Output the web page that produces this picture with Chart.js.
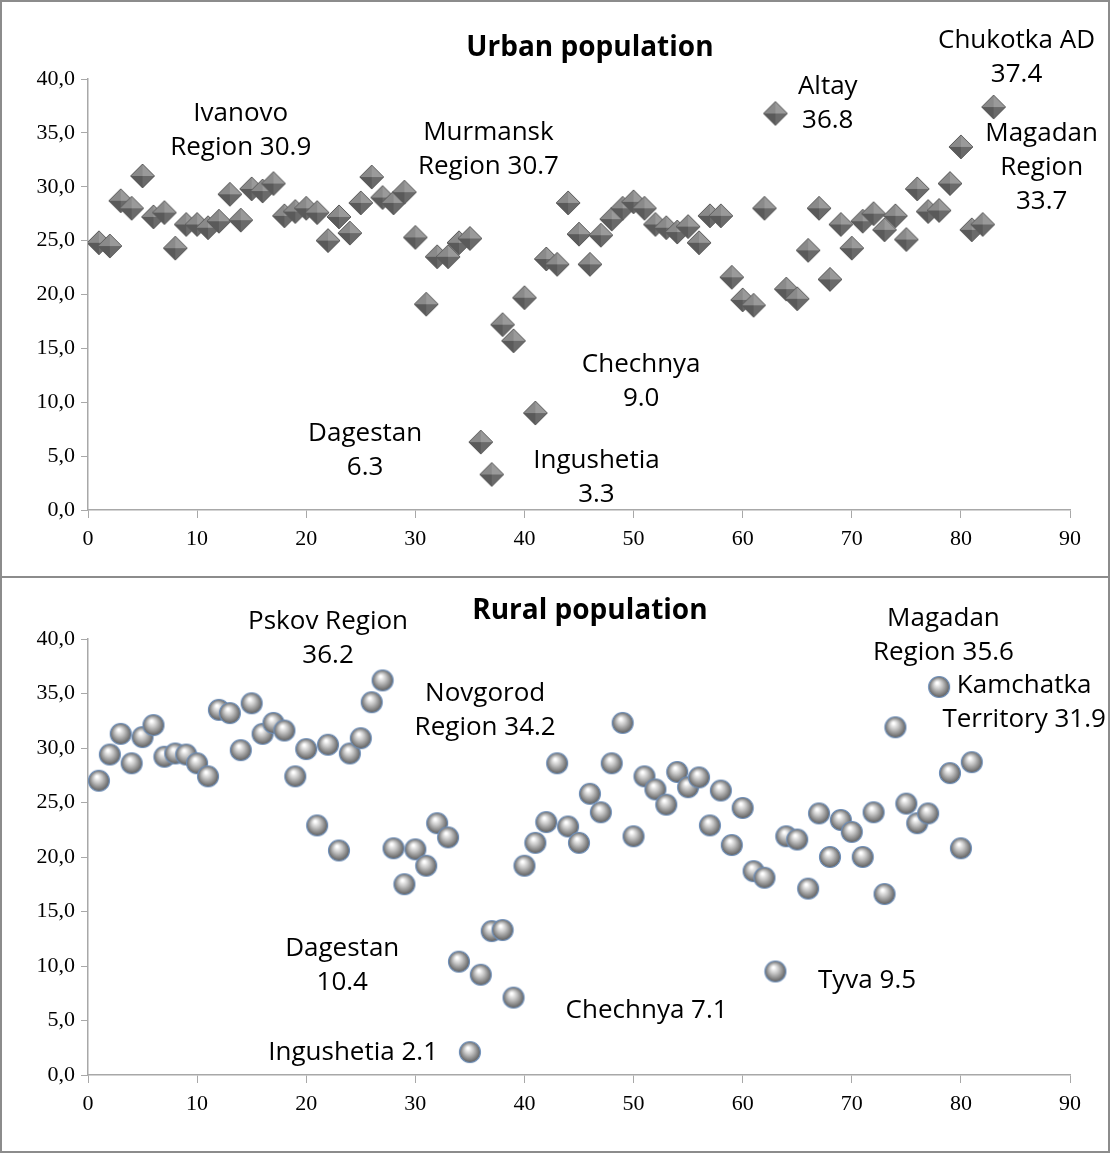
<!DOCTYPE html>
<html>
<head>
<meta charset="utf-8">
<script src="https://cdn.jsdelivr.net/npm/chart.js@4"></script>
<style>
body{margin:0;background:#fff;}
.panel{position:absolute;left:0;width:1106px;border:2px solid #8c8c8c;background:#fff;}
#p1{top:0;height:574px;}
#p2{top:576px;height:573px;}
canvas{display:block;}
</style>
</head>
<body>
<div class="panel" id="p1"><canvas id="urban" width="1106" height="574"></canvas></div>
<div class="panel" id="p2"><canvas id="rural" width="1106" height="573"></canvas></div>
<script>
// urban population, index 1..83
const urbanValues = [24.8,24.5,28.7,28.0,31.0,27.2,27.6,24.3,26.5,26.5,26.2,26.8,29.3,26.9,29.8,29.6,30.3,27.3,27.7,28.0,
27.6,25.0,27.2,25.7,28.5,30.9,29.0,28.5,29.5,25.3,19.1,23.5,23.5,24.8,25.2,6.3,3.3,17.2,15.7,19.7,
9.0,23.3,22.8,28.5,25.6,22.8,25.5,27.0,28.0,28.6,28.0,26.5,26.2,25.8,26.3,24.8,27.3,27.3,21.6,19.5,
19.0,28.0,36.8,20.5,19.6,24.1,28.0,21.4,26.5,24.3,26.8,27.5,26.0,27.3,25.1,29.8,27.7,27.8,30.3,33.7,
26.0,26.5,37.4];
// rural population, index 1..81
const ruralValues = [27.0,29.4,31.3,28.6,31.0,32.1,29.2,29.5,29.4,28.6,27.4,33.5,33.2,29.8,34.1,31.3,32.3,31.6,27.4,29.9,
22.9,30.3,20.6,29.5,30.9,34.2,36.2,20.8,17.5,20.7,19.2,23.1,21.8,10.4,2.1,9.2,13.2,13.3,7.1,19.2,
21.3,23.2,28.6,22.8,21.3,25.8,24.1,28.6,32.3,21.9,27.4,26.2,24.8,27.8,26.4,27.3,22.9,26.1,21.1,24.5,
18.7,18.1,9.5,21.9,21.6,17.1,24.0,20.0,23.4,22.3,20.0,24.1,16.6,31.9,24.9,23.1,24.0,35.6,27.7,20.8,
28.7];
const xTicks = [0,10,20,30,40,50,60,70,80,90];
const yTicks = [0,5,10,15,20,25,30,35,40];

// annotation text: [x, y of first line, lines...]
const urbanNotes = [
  [14,36.8,"Ivanovo","Region 30.9"],
  [36.7,35.0,"Murmansk","Region 30.7"],
  [67.8,39.3,"Altay","36.8"],
  [85.1,43.6,"Chukotka AD","37.4"],
  [87.4,34.9,"Magadan","Region","33.7"],
  [50.7,13.5,"Chechnya","9.0"],
  [25.4,7.1,"Dagestan","6.3"],
  [46.6,4.6,"Ingushetia","3.3"],
];
const ruralNotes = [
  [22,41.6,"Pskov Region","36.2"],
  [36.4,35.0,"Novgorod","Region 34.2"],
  [78.4,41.9,"Magadan","Region 35.6"],
  [85.8,35.7,"Kamchatka","Territory 31.9"],
  [23.3,11.6,"Dagestan","10.4"],
  [24.3,2.1,"Ingushetia 2.1"],
  [51.2,5.9,"Chechnya 7.1"],
  [71.4,8.7,"Tyva 9.5"],
];

function diamondImg(){
  const c=document.createElement('canvas');c.width=26;c.height=26;
  const g=c.getContext('2d');const m=13,r=12;
  const faces=[["#9a9a9a",[m,m-r],[m+r,m]],["#6a6a6a",[m+r,m],[m,m+r]],["#5a5a5a",[m,m+r],[m-r,m]],["#8a8a8a",[m-r,m],[m,m-r]]];
  faces.forEach(f=>{g.fillStyle=f[0];g.beginPath();g.moveTo(m,m);g.lineTo(f[1][0],f[1][1]);g.lineTo(f[2][0],f[2][1]);g.closePath();g.fill();});
  g.strokeStyle="#5c5c5c";g.lineWidth=1;g.beginPath();g.moveTo(m,m-r);g.lineTo(m+r,m);g.lineTo(m,m+r);g.lineTo(m-r,m);g.closePath();g.stroke();
  return c;
}
function sphereImg(){
  const c=document.createElement('canvas');c.width=24;c.height=24;
  const g=c.getContext('2d');
  const grd=g.createRadialGradient(10,8,1,12,12,11);
  grd.addColorStop(0,"#ffffff");grd.addColorStop(0.35,"#c8c8c8");grd.addColorStop(0.8,"#7a7a7a");grd.addColorStop(1,"#555");
  g.fillStyle=grd;g.beginPath();g.arc(12,12,10.5,0,Math.PI*2);g.fill();
  g.strokeStyle="#6f8fb8";g.lineWidth=1.2;g.stroke();
  return c;
}

const notesPlugin={
  id:'notes',
  afterDatasetsDraw(chart,args,opts){
    const ctx=chart.ctx,xs=chart.scales.x,ys=chart.scales.y;
    ctx.save();
    ctx.fillStyle="#000";ctx.textAlign="center";ctx.textBaseline="middle";
    ctx.font="bold 28px 'Open Sans'";
    ctx.fillText(opts.title,xs.getPixelForValue(opts.titleX),opts.titleY);
    ctx.font="26px 'Open Sans'";
    opts.notes.forEach(n=>{
      const px=xs.getPixelForValue(n[0]),py=ys.getPixelForValue(n[1]);
      n.slice(2).forEach((t,i)=>ctx.fillText(t,px,py+i*34));
    });
    ctx.restore();
  }
};

function makeChart(id,values,img,notes,title,titleY,padTop,xHeight){
  const pts=values.map((v,i)=>({x:i+1,y:v}));
  return new Chart(document.getElementById(id),{
    type:'scatter',
    data:{datasets:[{data:pts,pointStyle:img,pointRadius:12,pointHoverRadius:12}]},
    options:{
      responsive:false,animation:false,
      layout:{padding:{top:padTop,right:38,left:0,bottom:0}},
      plugins:{legend:{display:false},tooltip:{enabled:false},
        notes:{notes:notes,title:title,titleX:46,titleY:titleY}},
      scales:{
        x:{min:0,max:90,afterBuildTicks:s=>{s.ticks=xTicks.map(v=>({value:v}));},
          afterFit:s=>{s.height=xHeight;},
          grid:{drawOnChartArea:false,tickLength:8,color:"#a8a8a8"},
          border:{color:"#a8a8a8",width:1.5},
          ticks:{color:"#000",font:{family:"Liberation Serif",size:22},padding:8}},
        y:{min:0,max:40,afterBuildTicks:s=>{s.ticks=yTicks.map(v=>({value:v}));},
          afterFit:s=>{s.width=86;},
          grid:{drawOnChartArea:false,tickLength:7,color:"#a8a8a8"},
          border:{color:"#a8a8a8",width:1.5},
          ticks:{color:"#000",font:{family:"Liberation Serif",size:22},padding:6,
            callback:v=>v.toFixed(1).replace('.',',')}}
      }
    },
    plugins:[notesPlugin]
  });
}

makeChart('urban',urbanValues,diamondImg(),urbanNotes,"Urban population",46,77,66);
makeChart('rural',ruralValues,sphereImg(),ruralNotes,"Rural population",33,61,76);
</script>
</body>
</html>
